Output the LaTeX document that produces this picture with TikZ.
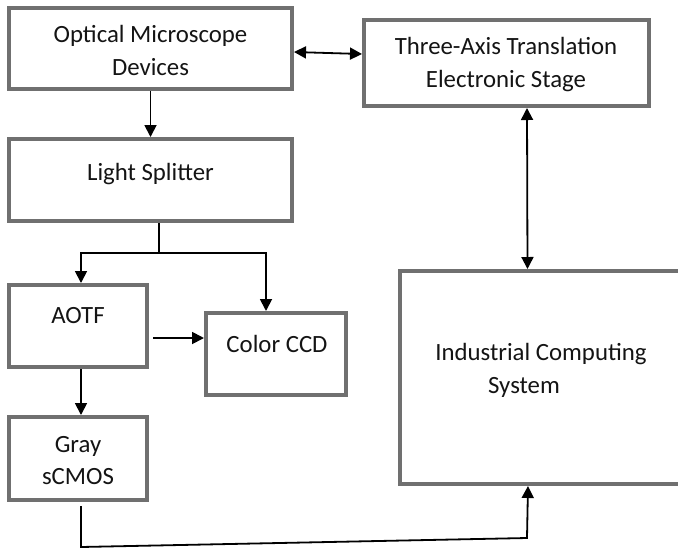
\documentclass[tikz,border=0pt]{standalone}
\usepackage{fontspec}
\setmainfont{Carlito}
\usetikzlibrary{arrows.meta}
\definecolor{boxgray}{RGB}{112,112,112}
\definecolor{txtblack}{RGB}{20,20,20}
\begin{document}
\begin{tikzpicture}[x=1pt,y=-1pt,
  box/.style={draw=boxgray, line width=4pt, outer sep=2pt, inner sep=0pt, fill=white},
  txt/.style={anchor=base, inner sep=0pt, text=txtblack, font=\fontsize{24.8}{33.5}\selectfont},
  conn/.style={draw=black, line width=1.8pt},
  arr/.style={conn, -{Triangle[length=12pt,width=12pt]}},
  darr/.style={conn, {Triangle[length=12pt,width=12pt]}-{Triangle[length=12pt,width=12pt]}}]
\fill[white] (0,0) rectangle (678,550);
\useasboundingbox (0,0) rectangle (678,550);

% boxes
\node[box, minimum width=283pt, minimum height=81pt] (opt) at (150.5,48.5) {};
\node[box, minimum width=285pt, minimum height=86pt] (stage) at (506.5,63) {};
\node[box, minimum width=283pt, minimum height=82pt] (split) at (150.5,180) {};
\node[box, minimum width=138pt, minimum height=82pt] (aotf) at (78,326) {};
\node[box, minimum width=140pt, minimum height=82pt] (ccd) at (276,354) {};
\node[box, minimum width=138pt, minimum height=83pt] (gray) at (78,458.5) {};
\node[box, minimum width=282pt, minimum height=213pt] (ics) at (541,377.5) {};

% texts
\node[txt] (t1a) at (150.5,42) {Optical Microscope};
\node[txt] (t1b) at (150.5,75) {Devices};
\node[txt] (t2a) at (506,54) {Three-Axis Translation};
\node[txt] (t2b) at (506,87) {Electronic Stage};
\node[txt] (t3) at (150.5,180) {Light Splitter};
\node[txt] (t4) at (78,323) {AOTF};
\node[txt] (t5) at (277,352.5) {Color CCD};
\node[txt] (t6a) at (78,452) {Gray};
\node[txt] (t6b) at (78,484) {sCMOS};
\node[txt] (t7a) at (541,360) {Industrial Computing};
\node[txt] (t7b) at (524,393) {System};

% connectors
\draw[darr] ([shift={(0,3.5)}]opt.east) -- ([shift={(0,-9)}]stage.west);
\draw[arr] (opt.south) -- (split.north);
\coordinate (j) at (159,253);
\draw[conn] ([shift={(8.5,0)}]split.south) -- (j);
\draw[arr] (j) -| ([shift={(3,0)}]aotf.north);
\draw[arr] (j) -| ([shift={(-10,0)}]ccd.north);
\coordinate (a1) at (153,338);
\draw[arr] (a1) -- (a1 -| ccd.west);
\draw[arr] ([shift={(3,0)}]aotf.south) -- ([shift={(3,0)}]gray.north);
\draw[darr] ([shift={(20.5,0)}]stage.south) -- ([shift={(-13.5,0)}]ics.north);
\coordinate (g0) at ([shift={(3,4)}]gray.south);
\coordinate (c1) at (81,547);
\coordinate (c2) at (527,538);
\draw[arr] (g0) -- (c1) -- (c2) -- ([shift={(-13,0)}]ics.south);
\end{tikzpicture}
\end{document}
